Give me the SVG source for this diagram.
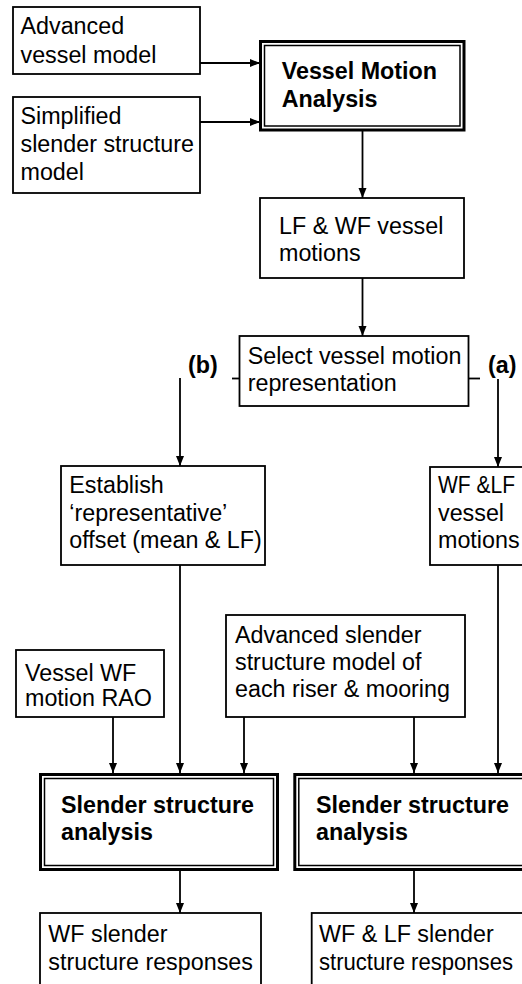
<svg xmlns="http://www.w3.org/2000/svg" width="522" height="984" viewBox="0 0 522 984">
<defs>
<marker id="ah" markerUnits="userSpaceOnUse" markerWidth="10" markerHeight="10" viewBox="0 0 10 10" refX="10" refY="5" orient="auto">
<path d="M0,1 L10,5 L0,9 z" fill="#000"/>
</marker>
</defs>
<style>
.box{fill:#fff;stroke:#000;stroke-width:1.8}
.outer{fill:#fff;stroke:#000;stroke-width:3}
.inner{fill:none;stroke:#000;stroke-width:1.5}
.t{font-family:"Liberation Sans",Arial,Helvetica,sans-serif;font-size:23.3px;fill:#000}
.b{font-weight:bold}
.c{stroke:#000;stroke-width:1.8;fill:none}
.ca{stroke:#000;stroke-width:1.8;fill:none;marker-end:url(#ah)}
</style>
<rect width="522" height="984" fill="#fff"/>
<g id="connectors">
<line class="ca" x1="200" y1="63" x2="260" y2="63"/>
<line class="ca" x1="200" y1="122" x2="260" y2="122"/>
<line class="ca" x1="362.5" y1="131" x2="362.5" y2="198"/>
<line class="ca" x1="362.5" y1="278" x2="362.5" y2="336"/>
<line class="c" x1="232" y1="378.5" x2="240" y2="378.5"/>
<line class="ca" x1="180" y1="378" x2="180" y2="466"/>
<line class="c" x1="468" y1="378.5" x2="480" y2="378.5"/>
<line class="ca" x1="498" y1="379" x2="498" y2="467"/>
<line class="ca" x1="180" y1="565" x2="180" y2="773"/>
<line class="ca" x1="498" y1="565" x2="498" y2="773"/>
<line class="ca" x1="113" y1="717" x2="113" y2="773"/>
<line class="ca" x1="244" y1="717" x2="244" y2="773"/>
<line class="ca" x1="414" y1="717" x2="414" y2="773"/>
<line class="ca" x1="180" y1="871" x2="180" y2="913"/>
<line class="ca" x1="414" y1="871" x2="414" y2="913"/>
</g>
<g id="n-adv-vessel">
<rect class="box" x="13" y="7" width="187" height="67"/>
<text class="t" x="20.5" y="34">Advanced</text>
<text class="t" x="20.5" y="62.5">vessel model</text>
</g>
<g id="n-simplified">
<rect class="box" x="13" y="97" width="187" height="96"/>
<text class="t" x="20.5" y="124">Simplified</text>
<text class="t" x="20.5" y="152">slender structure</text>
<text class="t" x="20.5" y="180">model</text>
</g>
<g id="n-vma">
<rect class="outer" x="260.5" y="41.5" width="203.5" height="88.5"/>
<rect class="inner" x="264.5" y="45.5" width="195.5" height="80.5"/>
<text class="t b" x="281.7" y="79">Vessel Motion</text>
<text class="t b" x="281.7" y="107">Analysis</text>
</g>
<g id="n-lfwf">
<rect class="box" x="260" y="198" width="204" height="80"/>
<text class="t" x="279" y="234">LF &amp; WF vessel</text>
<text class="t" x="279" y="261">motions</text>
</g>
<g id="n-select">
<rect class="box" x="239.5" y="336" width="229" height="70"/>
<text class="t" x="247.7" y="364">Select vessel motion</text>
<text class="t" x="247.7" y="391">representation</text>
</g>
<g id="l-b"><text class="t b" x="188" y="372.5">(b)</text></g>
<g id="l-a"><text class="t b" x="488" y="372.5">(a)</text></g>
<g id="n-establish">
<rect class="box" x="61" y="466" width="204" height="99"/>
<text class="t" x="69.3" y="493.3">Establish</text>
<text class="t" x="69.3" y="521">‘representative’</text>
<text class="t" x="69.3" y="548.3">offset (mean &amp; LF)</text>
</g>
<g id="n-wflf">
<rect class="box" x="430" y="467" width="110" height="98"/>
<text class="t" x="438" y="493.3" textLength="77" lengthAdjust="spacingAndGlyphs">WF &amp;LF</text>
<text class="t" x="438" y="521">vessel</text>
<text class="t" x="438" y="548.3">motions</text>
</g>
<g id="n-adv-slender">
<rect class="box" x="226" y="615" width="239" height="102"/>
<text class="t" x="235" y="643">Advanced slender</text>
<text class="t" x="235" y="670">structure model of</text>
<text class="t" x="235" y="697">each riser &amp; mooring</text>
</g>
<g id="n-rao">
<rect class="box" x="16" y="650" width="148" height="67"/>
<text class="t" x="25" y="681">Vessel WF</text>
<text class="t" x="25" y="706">motion RAO</text>
</g>
<g id="n-ssa-left">
<rect class="outer" x="40.5" y="774.5" width="237" height="95"/>
<rect class="inner" x="44.5" y="778.5" width="229" height="87"/>
<text class="t b" x="61" y="812.5">Slender structure</text>
<text class="t b" x="61" y="840">analysis</text>
</g>
<g id="n-ssa-right">
<rect class="outer" x="294.8" y="774.5" width="240" height="95"/>
<rect class="inner" x="298.8" y="778.5" width="232" height="87"/>
<text class="t b" x="316" y="812.5">Slender structure</text>
<text class="t b" x="316" y="840">analysis</text>
</g>
<g id="n-wf-resp">
<rect class="box" x="40" y="913" width="221" height="90"/>
<text class="t" x="48.3" y="941.5">WF slender</text>
<text class="t" x="48.3" y="970">structure responses</text>
</g>
<g id="n-wflf-resp">
<rect class="box" x="311.7" y="913" width="230" height="90"/>
<text class="t" x="319" y="941.5">WF &amp; LF slender</text>
<text class="t" x="319" y="970" textLength="194" lengthAdjust="spacingAndGlyphs">structure responses</text>
</g>
</svg>
